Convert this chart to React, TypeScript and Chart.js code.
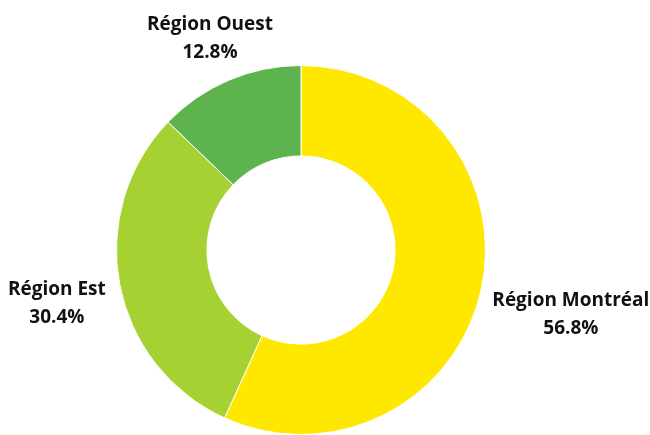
import React, { useEffect, useRef } from "react";
import { Chart, registerables } from "chart.js";

Chart.register(...registerables);

const regions = ["Région Montréal", "Région Est", "Région Ouest"];
const shares = [56.8, 30.4, 12.8];
const colors = ["#FFE800", "#A6D133", "#5DB44F"];

const labelNudge = [
  { dx: 5, dy: 18 },
  { dx: -7, dy: 12 },
  { dx: 9, dy: -8 },
];

const outerLabels = {
  id: "outerLabels",
  afterDatasetsDraw(chart: any) {
    const ctx = chart.ctx;
    const meta = chart.getDatasetMeta(0);
    ctx.save();
    ctx.font = 'bold 19px "Open Sans"';
    ctx.fillStyle = "#111111";
    ctx.textAlign = "center";
    ctx.textBaseline = "middle";
    const lh = 28;
    meta.data.forEach((arc: any, i: number) => {
      const p = arc.getProps(["x", "y", "startAngle", "endAngle", "outerRadius"], true);
      const mid = (p.startAngle + p.endAngle) / 2;
      const c = Math.cos(mid);
      const s = Math.sin(mid);
      const r = p.outerRadius + 8;
      const ax = p.x + c * r;
      const ay = p.y + s * r;
      const lines = [chart.data.labels[i], shares[i].toFixed(1) + "%"];
      const w = Math.max(...lines.map((t: string) => ctx.measureText(t).width));
      const h = lh * 2;
      const cx = ax + (c * w) / 2 + labelNudge[i].dx;
      const cy = ay + (s * h) / 2 + labelNudge[i].dy;
      ctx.fillText(lines[0], cx, cy - lh / 2);
      ctx.fillText(lines[1], cx, cy + lh / 2);
    });
    ctx.restore();
  },
};

export default function App() {
  const ref = useRef<HTMLCanvasElement>(null);
  useEffect(() => {
    if (!ref.current) return;
    const chart = new Chart(ref.current, {
      type: "doughnut",
      data: {
        labels: regions,
        datasets: [
          {
            data: shares,
            backgroundColor: colors,
            borderColor: "#ffffff",
            borderWidth: 1,
          },
        ],
      },
      options: {
        responsive: false,
        animation: false,
        cutout: "51%",
        layout: { padding: { left: 116, right: 164, top: 65, bottom: 0 } },
        plugins: {
          legend: { display: false },
          tooltip: { enabled: false },
        },
      },
      plugins: [outerLabels],
    });
    return () => chart.destroy();
  }, []);
  return (
    <div style={{ position: "absolute", left: 0, top: 0, width: 650, height: 435, background: "#fff" }}>
      <canvas ref={ref} width={650} height={435} />
    </div>
  );
}
